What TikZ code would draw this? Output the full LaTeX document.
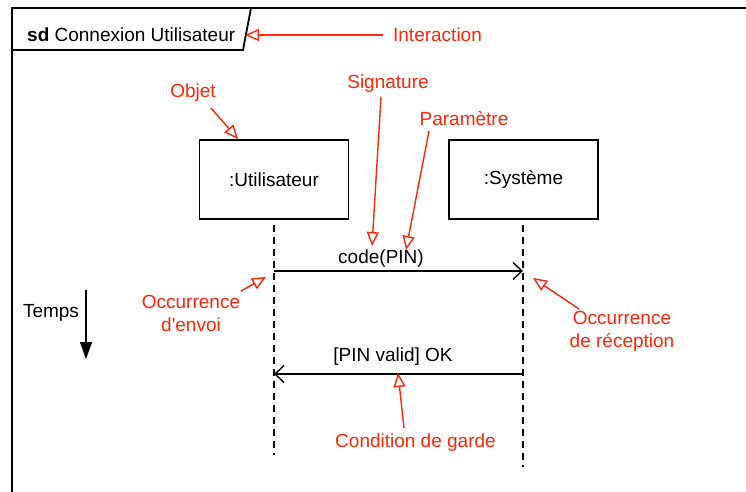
\documentclass[tikz,border=0pt]{standalone}
\usepackage{fontspec}
\setmainfont{Liberation Sans}
\usetikzlibrary{arrows.meta}
\definecolor{annot}{RGB}{255,38,10}
\tikzset{
  txt/.style={font=\fontsize{19}{22}\selectfont, inner sep=0pt},
  redtxt/.style={txt, text=annot, align=center},
  objbox/.style={draw, line width=1.5pt, minimum width=149pt, minimum height=79pt, txt},
  lifeline/.style={line width=1.4pt, dash pattern=on 7pt off 5pt},
  msg/.style={line width=1.4pt, -{Straight Barb[length=9pt, width=17pt, line width=1.4pt]}},
  note/.style={annot, line width=1.4pt, -{Triangle[open, length=14pt, width=12pt, line width=1.4pt]}},
  frameline/.style={line width=1.8pt}
}
\begin{document}
\begin{tikzpicture}[x=1pt, y=-1pt]
\useasboundingbox (0,0) rectangle (746,491);
% frame
\draw[frameline] (12,495) -- (12,8) -- (750,8);
\draw[frameline] (12,50) -- (243,50) -- (251,8);
\node[txt, anchor=west] (title) at (27,35) {\textbf{sd} Connexion Utilisateur};
\coordinate (tabedge) at (245,35);
% objects
\node[objbox] (u) at (274,179.5) {:Utilisateur};
\node[objbox] (s) at (523.5,179.5) {:Système};
% lifelines
\coordinate (ut) at (274,225);
\coordinate (ub) at (274,455);
\coordinate (st) at (523,225);
\coordinate (sb) at (523,467);
\draw[lifeline] (ut) -- (ub);
\draw[lifeline] (st) -- (sb);
% messages
\coordinate (m1a) at (274,271);
\coordinate (m1b) at (523,271);
\coordinate (m2a) at (523,374);
\coordinate (m2b) at (274,374);
\draw[msg] (m1a) -- (m1b);
\draw[msg] (m2a) -- (m2b);
\node[txt] (l1) at (381,259) {code(PIN)};
\node[txt] (l2) at (393,357) {[PIN valid] OK};
% time
\node[txt] (temps) at (51,313) {Temps};
\coordinate (t1) at (86,290);
\coordinate (t2) at (86,359);
\draw[line width=1.4pt, -{Triangle[length=17pt, width=12pt]}] (t1) -- (t2);
% annotations
\node[redtxt] (inter) at (437.5,35) {Interaction};
\coordinate (ia) at (383,35);
\draw[note] (ia) -- (tabedge);

\node[redtxt] (objet) at (193,93) {Objet};
\coordinate (oa) at (211,108);
\coordinate (ob) at (238,139);
\draw[note] (oa) -- (ob);

\node[redtxt] (sig) at (388,84) {Signature};
\coordinate (sa) at (381,97);
\coordinate (sbt) at (372,246);
\draw[note] (sa) -- (sbt);

\node[redtxt] (par) at (464,119) {Paramètre};
\coordinate (pa) at (429,131);
\coordinate (pb) at (406,250);
\draw[note] (pa) -- (pb);

\node[redtxt] (envoi) at (191,313.5) {Occurrence\\[1pt]d\textquotesingle envoi};
\coordinate (ea) at (241,291);
\coordinate (eb) at (266,277);
\draw[note] (ea) -- (eb);

\node[redtxt] (recep) at (622,331) {Occurrence\\[1pt]de réception};
\coordinate (ra) at (579,309);
\coordinate (rb) at (533,278);
\draw[note] (ra) -- (rb);

\node[redtxt] (garde) at (415.5,443) {Condition de garde};
\coordinate (ga) at (404,428);
\coordinate (gb) at (398,373);
\draw[note] (ga) -- (gb);
\end{tikzpicture}
\end{document}
